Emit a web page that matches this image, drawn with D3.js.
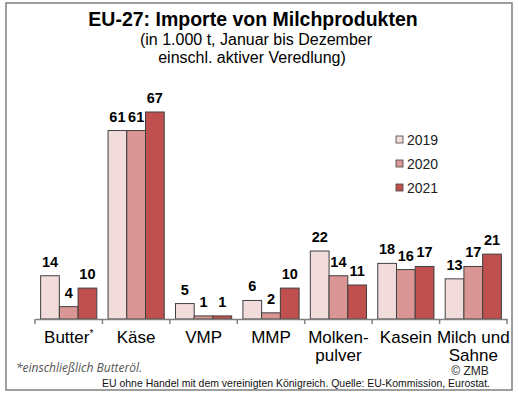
<!DOCTYPE html>
<html lang="de">
<head>
<meta charset="UTF-8">
<title>EU-27: Importe von Milchprodukten</title>
<script src="https://cdn.jsdelivr.net/npm/d3@7"></script>
<style>
  body { margin: 0; background: #fff; }
  svg { display: block; font-family: "Liberation Sans", Arial, sans-serif; }
</style>
</head>
<body>
<script>
// data (1.000 t)
const categories = ['Butter', 'Käse', 'VMP', 'MMP', 'Molken-|pulver', 'Kasein', 'Milch und|Sahne']
const years = ['2019', '2020', '2021']
const v2019 = [14, 61, 5, 6, 22, 18, 13]
const v2020 = [4, 61, 1, 2, 14, 16, 17]
const v2021 = [10, 67, 1, 10, 11, 17, 21]
const colors = ['#f2dcdb', '#d99694', '#c0504d']

const width = 519
const height = 397

const svg = d3.select('body').append('svg')
  .attr('width', width)
  .attr('height', height)

svg.append('rect')
  .attr('x', 6).attr('y', 3)
  .attr('width', 506).attr('height', 387)
  .attr('fill', '#fff')
  .attr('stroke', '#7f7f7f')
  .attr('stroke-width', 1.5)

const x0 = d3.scaleBand().domain(categories).range([35, 507]).paddingInner(0).paddingOuter(0)
const x1 = d3.scaleBand().domain(years).range([0, x0.bandwidth()]).paddingInner(0).paddingOuter(0.3)
const y = d3.scaleLinear().domain([0, 67]).range([319, 112])

const series = years.map((yr, i) => ({
  year: yr,
  color: colors[i],
  values: [v2019, v2020, v2021][i]
}))

// bars
const groups = svg.selectAll('g.series')
  .data(series)
  .enter()
  .append('g')
  .attr('class', 'series')

groups.selectAll('rect')
  .data(s => s.values.map((v, j) => ({ v, cat: categories[j], year: s.year, color: s.color })))
  .enter()
  .append('rect')
  .attr('x', d => x0(d.cat) + x1(d.year))
  .attr('y', d => y(d.v))
  .attr('width', x1.bandwidth())
  .attr('height', d => y(0) - y(d.v))
  .attr('fill', d => d.color)
  .attr('stroke', '#404040')
  .attr('stroke-width', 1)

// value labels
groups.selectAll('text')
  .data(s => s.values.map((v, j) => ({ v, cat: categories[j], year: s.year })))
  .enter()
  .append('text')
  .attr('x', d => x0(d.cat) + x1(d.year) + x1.bandwidth() / 2)
  .attr('y', d => y(d.v) - 9)
  .attr('text-anchor', 'middle')
  .attr('font-size', '14.5px')
  .attr('font-weight', 'bold')
  .attr('fill', '#000')
  .text(d => d.v)

// x axis
const xAxis = d3.axisBottom(x0).tickSize(0).tickFormat('')
const axisG = svg.append('g')
  .attr('transform', `translate(0, ${y(0)})`)
  .call(xAxis)
axisG.select('.domain').attr('stroke', '#7f7f7f').attr('stroke-width', 1.5)

svg.append('g').selectAll('line')
  .data(categories.concat(['end']))
  .enter()
  .append('line')
  .attr('x1', (d, i) => i < categories.length ? x0(d) : x0.range()[1])
  .attr('x2', (d, i) => i < categories.length ? x0(d) : x0.range()[1])
  .attr('y1', y(0))
  .attr('y2', y(0) + 5)
  .attr('stroke', '#7f7f7f')
  .attr('stroke-width', 1.5)

// category labels
const catLabels = svg.append('g').selectAll('text')
  .data(categories)
  .enter()
  .append('text')
  .attr('text-anchor', 'middle')
  .attr('font-size', '17px')
  .attr('fill', '#000')

catLabels.each(function (d) {
  const t = d3.select(this)
  const cx = x0(d) + x0.bandwidth() / 2
  const lines = d.split('|')
  lines.forEach((ln, k) => {
    t.append('tspan')
      .attr('x', cx)
      .attr('y', 343 + k * 18)
      .text(ln)
  })
  if (d === 'Butter') {
    t.append('tspan').attr('font-size', '10px').attr('dy', -6).text('*')
  }
})

// legend
const legend = svg.append('g').selectAll('g')
  .data(series)
  .enter()
  .append('g')
  .attr('transform', (d, i) => `translate(396, ${136 + i * 24})`)

legend.append('rect')
  .attr('width', 7).attr('height', 7)
  .attr('fill', d => d.color)
  .attr('stroke', '#404040')
  .attr('stroke-width', 0.8)

legend.append('text')
  .attr('x', 11)
  .attr('y', 8.5)
  .attr('font-size', '14px')
  .attr('fill', '#222')
  .text(d => d.year)

// titles
svg.append('text')
  .attr('x', 253).attr('y', 25.5)
  .attr('text-anchor', 'middle')
  .attr('font-size', '19.5px')
  .attr('font-weight', 'bold')
  .text('EU-27: Importe von Milchprodukten')

svg.append('text')
  .attr('x', 256).attr('y', 44.5)
  .attr('text-anchor', 'middle')
  .attr('font-size', '16px')
  .text('(in 1.000 t, Januar bis Dezember')

svg.append('text')
  .attr('x', 252).attr('y', 63)
  .attr('text-anchor', 'middle')
  .attr('font-size', '16px')
  .text('einschl. aktiver Veredlung)')

// notes
svg.append('text')
  .attr('x', 16).attr('y', 372)
  .attr('font-size', '12px')
  .attr('font-style', 'italic')
  .attr('fill', '#555')
  .attr('font-family', '"Open Sans", sans-serif')
  .text('*einschließlich Butteröl.')

svg.append('text')
  .attr('x', 470).attr('y', 375)
  .attr('text-anchor', 'middle')
  .attr('font-size', '12px')
  .attr('fill', '#222')
  .text('© ZMB')

svg.append('text')
  .attr('x', 102).attr('y', 387)
  .attr('font-size', '10.5px')
  .attr('fill', '#111')
  .attr('textLength', 388)
  .attr('lengthAdjust', 'spacingAndGlyphs')
  .text('EU ohne Handel mit dem vereinigten Königreich. Quelle: EU-Kommission, Eurostat.')
</script>
</body>
</html>
